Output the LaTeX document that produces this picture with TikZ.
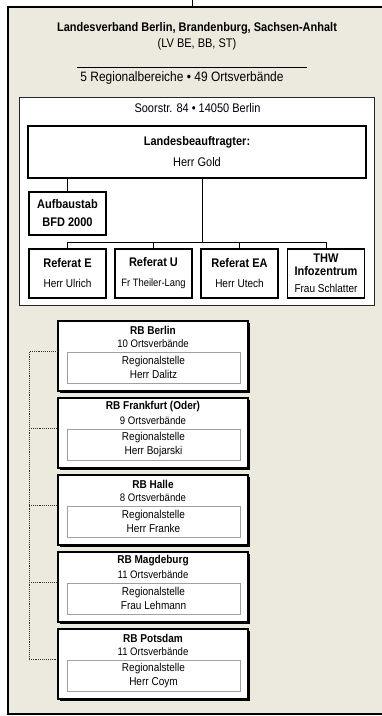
\documentclass[tikz,border=0pt]{standalone}
\usepackage{fontspec}
\setmainfont{Liberation Sans}[FakeStretch=0.88]
\usepackage{xcolor}
\usepackage{tikz}
\usetikzlibrary{shadows}
\definecolor{lvbeige}{RGB}{236,233,223}
\definecolor{rsgray}{RGB}{160,160,160}
\newcommand\pname{\fontsize{11.4}{13}\selectfont}
\tikzset{every picture/.style={x=1pt,y=-1pt},
  big/.style={font=\fontsize{12.5}{13}\selectfont, inner sep=0pt},
  link/.style={draw=black, line width=1pt},
  rbline/.style={draw=black!80, line width=0.9pt, densely dotted},
  lvbox/.style={rectangle, draw=black, line width=2pt, fill=lvbeige, minimum width=384pt, minimum height=707pt},
  whitebox/.style={rectangle, draw=black!85, line width=1pt, fill=white, minimum width=355pt, minimum height=208pt},
  lbbox/.style={rectangle, draw=black, line width=2.6pt, fill=white, minimum width=338pt, minimum height=52pt, inner sep=0pt, align=center, font=\fontsize{12.5}{13}\selectfont},
  refbox/.style={rectangle, draw=black, line width=1.2pt, fill=white, minimum width=77pt, minimum height=49pt, inner sep=0pt, align=center, font=\fontsize{12.5}{13}\selectfont},
  rbbox/.style={rectangle, draw=black, line width=1.2pt, fill=white, minimum width=190pt, minimum height=70pt, inner sep=0pt,
    drop shadow={shadow xshift=1.6pt, shadow yshift=-1.6pt, fill=black, opacity=1}},
  rbtitle/.style={font=\fontsize{11.4}{12}\selectfont\bfseries, inner sep=0pt},
  rbcount/.style={font=\fontsize{10.9}{12}\selectfont, inner sep=0pt},
  rsbox/.style={rectangle, draw=rsgray, line width=0.8pt, fill=white, minimum width=173pt, minimum height=31pt, inner sep=0pt, align=center, font=\fontsize{11.4}{14}\selectfont}}

\begin{document}
\begin{tikzpicture}
        \useasboundingbox (0,0) rectangle (381,716);
        \node[lvbox] (lv) at (200,360.5) {};
        \coordinate (lvtop) at (192,0);
        \draw[link] (lvtop) -- (lvtop |- lv.north);

        \node[big] (lvname) at (197,28) {\textbf{Landesverband Berlin, Brandenburg, Sachsen-Anhalt}};
        \node[big] (lvshort) at (197,44) {(LV BE, BB, ST)};
        \coordinate (rulel) at (77,67);
        \coordinate (ruler) at (307,67);
        \draw[link] (rulel) -- (ruler);
        \node[big, font=\fontsize{13.6}{14}\selectfont] (lvcount) at (182,78) {5 Regionalbereiche • 49 Ortsverbände};

        \node[whitebox] (lsb) at (196.5,201) {};
        \node[big] (addr) at (197.5,108) {Soorstr. 84 • 14050 Berlin};
        \node[lbbox] (lb) at (197,152) {\textbf{Landesbeauftragter:}\\[8pt]Herr Gold};
        \node[refbox, minimum height=43pt] (abs) at (67.5,213.5) {\textbf{Aufbaustab}\\[5pt]\textbf{BFD 2000}};
        \node[refbox] (refE) at (67.5,273.5) {\textbf{Referat E}\\[7pt]{\pname Herr Ulrich}};
        \node[refbox] (refU) at (153.5,273.5) {\textbf{Referat U}\\[7pt]{\fontsize{10.7}{13}\selectfont Fr Theiler-Lang}};
        \node[refbox] (refEA) at (239.5,273.5) {\textbf{Referat EA}\\[7pt]{\pname Herr Utech}};
        \node[refbox] (thw) at (326,273.5) {\textbf{THW}\\\textbf{Infozentrum}\\[4pt]{\pname Frau Schlatter}};

        \coordinate (bus) at (202,242);
        \draw[link] (abs.north) -- (abs.north |- lb.south);
        \draw[link] (bus |- lb.south) -- (bus);
        \foreach \r in {refE, refU, refEA, thw}
        \draw[link] (bus) -| (\r.north);

        \foreach \i/\t/\rb/\ov/\who in {
          1/321/RB Berlin/10/Herr Dalitz,
          2/398/RB Frankfurt (Oder)/9/Herr Bojarski,
          3/475/RB Halle/8/Herr Franke,
          4/552/RB Magdeburg/11/Frau Lehmann,
          5/629/RB Potsdam/11/Herr Coym}{
          \node[rbbox] (rb\i) at (153,\t+35) {};
          \node[rbtitle] (rbt\i) at (153,\t+9) {\rb};
          \node[rbcount] (rbc\i) at (153,\t+23) {\ov\ Ortsverbände};
          \node[rsbox] (rs\i) at (153.5,\t+46.5) {Regionalstelle\\\who};
        }

        \coordinate (rail) at (29,352);
        \draw[rbline] (rb1.west |- rs1.north) -| (rail |- rs5.north) -- (rb5.west |- rs5.north);
        \foreach \i in {2,3,4}
        \draw[rbline] (rail |- rs\i.north) -- (rb\i.west |- rs\i.north);
      \end{tikzpicture}
\end{document}
